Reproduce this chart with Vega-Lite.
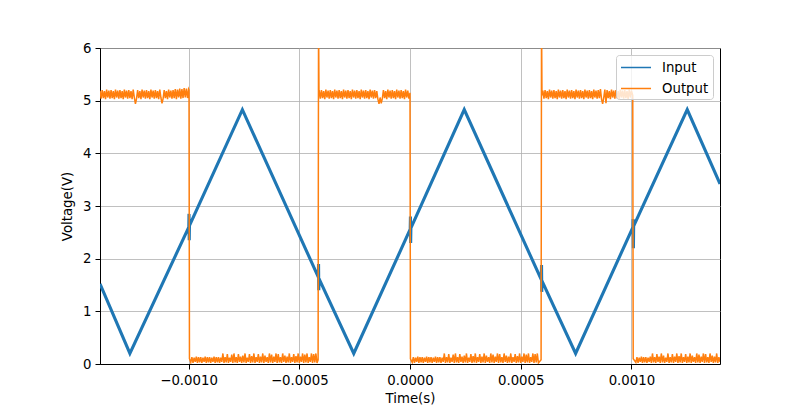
{
"$schema": "https://vega.github.io/schema/vega-lite/v6.json",
"width": 620, "height": 316,
"autosize": {"type": "none"},
"padding": {"left": 100, "top": 48, "right": 80, "bottom": 45},
"background": "white",
"config": {
 "font": "DejaVu Sans",
 "view": {"stroke": "black", "strokeWidth": 1},
 "axis": {"labelFont": "DejaVu Sans", "labelFontSize": 13.3, "labelColor": "black", "titleFont": "DejaVu Sans", "titleFontSize": 13.3, "titleFontWeight": "normal", "titleColor": "black", "tickColor": "black", "tickSize": 5, "domainColor": "black", "gridColor": "#b0b0b0", "gridWidth": 0.8, "labelPadding": 4, "titlePadding": 6},
 "legend": {"orient": "top-right", "offset": 7, "labelFont": "DejaVu Sans", "labelFontSize": 13.3, "labelColor": "black", "strokeColor": "#cccccc", "fillColor": "rgba(255,255,255,0.8)", "cornerRadius": 3, "padding": 4, "symbolType": "M-1,0H3", "symbolSize": 225, "symbolStrokeWidth": 1.5, "labelOffset": 25, "rowPadding": 6}
},
"datasets": {
 "input": [
  {"t": -0.0014, "v": 1.52}, {"t": -0.001265, "v": 0.2}, {"t": -0.000999, "v": 2.6}, {"t": -0.000998, "v": 2.85}, {"t": -0.000997, "v": 2.35}, {"t": -0.000996, "v": 2.63},
  {"t": -0.000757, "v": 4.83}, {"t": -0.000414, "v": 1.65}, {"t": -0.000413, "v": 1.9}, {"t": -0.000412, "v": 1.4}, {"t": -0.000411, "v": 1.62},
  {"t": -0.000254, "v": 0.2}, {"t": 0.000001, "v": 2.56}, {"t": 0.000002, "v": 2.8}, {"t": 0.000003, "v": 2.3}, {"t": 0.000004, "v": 2.58},
  {"t": 0.000245, "v": 4.83}, {"t": 0.000593, "v": 1.6}, {"t": 0.000594, "v": 1.88}, {"t": 0.000595, "v": 1.37}, {"t": 0.000596, "v": 1.58},
  {"t": 0.000748, "v": 0.2}, {"t": 0.001007, "v": 2.6}, {"t": 0.001008, "v": 2.75}, {"t": 0.001009, "v": 2.2}, {"t": 0.00101, "v": 2.62},
  {"t": 0.001252, "v": 4.83}, {"t": 0.0014, "v": 3.42}
 ],
 "output": [
  {"t":-0.0014,"v":5.19},{"t":-0.001395,"v":5.04},{"t":-0.00139,"v":5.2},{"t":-0.001385,"v":5.05},{"t":-0.00138,"v":5.18},{"t":-0.001375,"v":5.03},{"t":-0.00137,"v":5.21},{"t":-0.001365,"v":5.06},
  {"t":-0.00136,"v":5.19},{"t":-0.001355,"v":5.04},{"t":-0.00135,"v":5.2},{"t":-0.001345,"v":5.05},{"t":-0.00134,"v":5.18},{"t":-0.001335,"v":5.03},{"t":-0.00133,"v":5.21},{"t":-0.001325,"v":5.06},
  {"t":-0.00132,"v":5.19},{"t":-0.001315,"v":5.04},{"t":-0.00131,"v":5.2},{"t":-0.001305,"v":5.05},{"t":-0.0013,"v":5.18},{"t":-0.001295,"v":5.03},{"t":-0.00129,"v":5.21},{"t":-0.001285,"v":5.06},
  {"t":-0.00128,"v":5.19},{"t":-0.001275,"v":5.04},{"t":-0.00127,"v":5.2},{"t":-0.001265,"v":5.05},{"t":-0.00126,"v":5.18},{"t":-0.001255,"v":5.03},{"t":-0.00125,"v":5.21},{"t":-0.001245,"v":5.06},
  {"t":-0.00124,"v":4.94},{"t":-0.001235,"v":5.04},{"t":-0.00123,"v":5.2},{"t":-0.001225,"v":5.05},{"t":-0.00122,"v":5.18},{"t":-0.001215,"v":5.03},{"t":-0.00121,"v":5.21},{"t":-0.001205,"v":5.06},
  {"t":-0.0012,"v":5.19},{"t":-0.001195,"v":5.04},{"t":-0.00119,"v":5.2},{"t":-0.001185,"v":5.05},{"t":-0.00118,"v":5.18},{"t":-0.001175,"v":5.03},{"t":-0.00117,"v":5.21},{"t":-0.001165,"v":5.06},
  {"t":-0.00116,"v":5.19},{"t":-0.001155,"v":5.04},{"t":-0.00115,"v":5.2},{"t":-0.001145,"v":5.05},{"t":-0.00114,"v":5.18},{"t":-0.001135,"v":5.03},{"t":-0.00113,"v":5.21},{"t":-0.001125,"v":5.06},
  {"t":-0.00112,"v":4.95},{"t":-0.001115,"v":5.04},{"t":-0.00111,"v":5.2},{"t":-0.001105,"v":5.05},{"t":-0.0011,"v":5.18},{"t":-0.001095,"v":5.03},{"t":-0.00109,"v":5.21},{"t":-0.001085,"v":5.06},
  {"t":-0.00108,"v":5.19},{"t":-0.001075,"v":5.04},{"t":-0.00107,"v":5.2},{"t":-0.001065,"v":5.05},{"t":-0.00106,"v":5.22},{"t":-0.001055,"v":5.03},{"t":-0.00105,"v":5.21},{"t":-0.001045,"v":5.06},
  {"t":-0.00104,"v":5.23},{"t":-0.001035,"v":5.04},{"t":-0.00103,"v":5.22},{"t":-0.001025,"v":5.05},{"t":-0.00102,"v":5.24},{"t":-0.001015,"v":5.06},{"t":-0.00101,"v":5.23},{"t":-0.001005,"v":5.05},
  {"t":-0.001,"v":5.22},{"t":-0.000998,"v":5.2},{"t":-0.000996,"v":0.1},
  {"t":-0.00099,"v":0.03},{"t":-0.000985,"v":0.13},{"t":-0.00098,"v":0.02},{"t":-0.000975,"v":0.12},{"t":-0.00097,"v":0.04},{"t":-0.000965,"v":0.14},{"t":-0.00096,"v":0.02},{"t":-0.000955,"v":0.13},
  {"t":-0.00095,"v":0.03},{"t":-0.000945,"v":0.13},{"t":-0.00094,"v":0.02},{"t":-0.000935,"v":0.12},{"t":-0.00093,"v":0.04},{"t":-0.000925,"v":0.14},{"t":-0.00092,"v":0.02},{"t":-0.000915,"v":0.13},
  {"t":-0.00091,"v":0.03},{"t":-0.000905,"v":0.13},{"t":-0.0009,"v":0.02},{"t":-0.000895,"v":0.12},{"t":-0.00089,"v":0.04},{"t":-0.000885,"v":0.14},{"t":-0.00088,"v":0.02},{"t":-0.000875,"v":0.13},
  {"t":-0.00087,"v":0.03},{"t":-0.000865,"v":0.13},{"t":-0.00086,"v":0.02},{"t":-0.000855,"v":0.12},{"t":-0.00085,"v":0.04},{"t":-0.000845,"v":0.2},{"t":-0.00084,"v":0.02},{"t":-0.000835,"v":0.13},
  {"t":-0.00083,"v":0.03},{"t":-0.000825,"v":0.19},{"t":-0.00082,"v":0.02},{"t":-0.000815,"v":0.12},{"t":-0.00081,"v":0.04},{"t":-0.000805,"v":0.18},{"t":-0.0008,"v":0.02},{"t":-0.000795,"v":0.2},
  {"t":-0.00079,"v":0.03},{"t":-0.000785,"v":0.13},{"t":-0.00078,"v":0.02},{"t":-0.000775,"v":0.19},{"t":-0.00077,"v":0.04},{"t":-0.000765,"v":0.14},{"t":-0.00076,"v":0.02},{"t":-0.000755,"v":0.16},
  {"t":-0.00075,"v":0.03},{"t":-0.000745,"v":0.2},{"t":-0.00074,"v":0.02},{"t":-0.000735,"v":0.12},{"t":-0.00073,"v":0.04},{"t":-0.000725,"v":0.19},{"t":-0.00072,"v":0.02},{"t":-0.000715,"v":0.15},
  {"t":-0.00071,"v":0.03},{"t":-0.000705,"v":0.2},{"t":-0.0007,"v":0.02},{"t":-0.000695,"v":0.13},{"t":-0.00069,"v":0.04},{"t":-0.000685,"v":0.19},{"t":-0.00068,"v":0.02},{"t":-0.000675,"v":0.14},
  {"t":-0.00067,"v":0.03},{"t":-0.000665,"v":0.2},{"t":-0.00066,"v":0.02},{"t":-0.000655,"v":0.16},{"t":-0.00065,"v":0.04},{"t":-0.000645,"v":0.13},{"t":-0.00064,"v":0.02},{"t":-0.000635,"v":0.2},
  {"t":-0.00063,"v":0.03},{"t":-0.000625,"v":0.18},{"t":-0.00062,"v":0.02},{"t":-0.000615,"v":0.14},{"t":-0.00061,"v":0.04},{"t":-0.000605,"v":0.2},{"t":-0.0006,"v":0.02},{"t":-0.000595,"v":0.19},
  {"t":-0.00059,"v":0.03},{"t":-0.000585,"v":0.13},{"t":-0.00058,"v":0.02},{"t":-0.000575,"v":0.2},{"t":-0.00057,"v":0.04},{"t":-0.000565,"v":0.16},{"t":-0.00056,"v":0.02},{"t":-0.000555,"v":0.14},
  {"t":-0.00055,"v":0.03},{"t":-0.000545,"v":0.2},{"t":-0.00054,"v":0.02},{"t":-0.000535,"v":0.13},{"t":-0.00053,"v":0.04},{"t":-0.000525,"v":0.19},{"t":-0.00052,"v":0.02},{"t":-0.000515,"v":0.15},
  {"t":-0.00051,"v":0.03},{"t":-0.000505,"v":0.2},{"t":-0.0005,"v":0.02},{"t":-0.000495,"v":0.14},{"t":-0.00049,"v":0.04},{"t":-0.000485,"v":0.2},{"t":-0.00048,"v":0.02},{"t":-0.000475,"v":0.18},
  {"t":-0.00047,"v":0.03},{"t":-0.000465,"v":0.2},{"t":-0.00046,"v":0.02},{"t":-0.000455,"v":0.13},{"t":-0.00045,"v":0.04},{"t":-0.000445,"v":0.2},{"t":-0.00044,"v":0.02},{"t":-0.000435,"v":0.19},
  {"t":-0.00043,"v":0.03},{"t":-0.000425,"v":0.2},{"t":-0.00042,"v":0.02},
  {"t":-0.000415,"v":0.08},{"t":-0.000413,"v":6.6},{"t":-0.000411,"v":5.1},
  {"t":-0.00041,"v":5.19},{"t":-0.000405,"v":5.04},{"t":-0.0004,"v":5.2},{"t":-0.000395,"v":5.05},{"t":-0.00039,"v":5.18},{"t":-0.000385,"v":5.03},{"t":-0.00038,"v":5.21},{"t":-0.000375,"v":5.06},
  {"t":-0.00037,"v":5.19},{"t":-0.000365,"v":5.04},{"t":-0.00036,"v":5.2},{"t":-0.000355,"v":5.05},{"t":-0.00035,"v":5.18},{"t":-0.000345,"v":5.03},{"t":-0.00034,"v":5.21},{"t":-0.000335,"v":5.06},
  {"t":-0.00033,"v":5.19},{"t":-0.000325,"v":5.04},{"t":-0.00032,"v":5.2},{"t":-0.000315,"v":5.05},{"t":-0.00031,"v":5.18},{"t":-0.000305,"v":5.03},{"t":-0.0003,"v":5.21},{"t":-0.000295,"v":5.06},
  {"t":-0.00029,"v":5.19},{"t":-0.000285,"v":5.04},{"t":-0.00028,"v":5.2},{"t":-0.000275,"v":5.05},{"t":-0.00027,"v":5.18},{"t":-0.000265,"v":5.03},{"t":-0.00026,"v":5.21},{"t":-0.000255,"v":5.06},
  {"t":-0.00025,"v":5.19},{"t":-0.000245,"v":5.04},{"t":-0.00024,"v":5.2},{"t":-0.000235,"v":5.05},{"t":-0.00023,"v":5.18},{"t":-0.000225,"v":5.03},{"t":-0.00022,"v":5.21},{"t":-0.000215,"v":5.06},
  {"t":-0.00021,"v":5.19},{"t":-0.000205,"v":5.04},{"t":-0.0002,"v":5.2},{"t":-0.000195,"v":5.05},{"t":-0.00019,"v":5.18},{"t":-0.000185,"v":5.03},{"t":-0.00018,"v":5.21},{"t":-0.000175,"v":5.06},
  {"t":-0.00017,"v":5.19},{"t":-0.000165,"v":5.04},{"t":-0.00016,"v":5.2},{"t":-0.000155,"v":5.05},{"t":-0.00015,"v":5.18},{"t":-0.000145,"v":5.03},{"t":-0.00014,"v":4.94},{"t":-0.000135,"v":5.06},
  {"t":-0.00013,"v":4.95},{"t":-0.000125,"v":5.04},{"t":-0.00012,"v":5.2},{"t":-0.000115,"v":5.05},{"t":-0.00011,"v":5.18},{"t":-0.000105,"v":5.03},{"t":-0.0001,"v":5.21},{"t":-0.000095,"v":5.06},
  {"t":-0.00009,"v":5.19},{"t":-0.000085,"v":5.04},{"t":-0.00008,"v":5.2},{"t":-0.000075,"v":5.05},{"t":-0.00007,"v":5.18},{"t":-0.000065,"v":5.03},{"t":-0.00006,"v":5.21},{"t":-0.000055,"v":5.06},
  {"t":-0.00005,"v":5.19},{"t":-0.000045,"v":5.04},{"t":-0.00004,"v":5.2},{"t":-0.000035,"v":5.05},{"t":-0.00003,"v":5.18},{"t":-0.000025,"v":5.03},{"t":-0.00002,"v":5.21},{"t":-0.000015,"v":5.06},
  {"t":-0.00001,"v":5.19},{"t":-0.000005,"v":5.04},{"t":0.0,"v":5.15},{"t":0.000002,"v":0.1},
  {"t":0.00001,"v":0.03},{"t":0.000015,"v":0.13},{"t":0.00002,"v":0.02},{"t":0.000025,"v":0.12},{"t":0.00003,"v":0.04},{"t":0.000035,"v":0.14},{"t":0.00004,"v":0.02},{"t":0.000045,"v":0.13},
  {"t":0.00005,"v":0.03},{"t":0.000055,"v":0.13},{"t":0.00006,"v":0.02},{"t":0.000065,"v":0.12},{"t":0.00007,"v":0.04},{"t":0.000075,"v":0.14},{"t":0.00008,"v":0.02},{"t":0.000085,"v":0.13},
  {"t":0.00009,"v":0.03},{"t":0.000095,"v":0.13},{"t":0.0001,"v":0.02},{"t":0.000105,"v":0.12},{"t":0.00011,"v":0.04},{"t":0.000115,"v":0.14},{"t":0.00012,"v":0.02},{"t":0.000125,"v":0.13},
  {"t":0.00013,"v":0.03},{"t":0.000135,"v":0.13},{"t":0.00014,"v":0.02},{"t":0.000145,"v":0.12},{"t":0.00015,"v":0.04},{"t":0.000155,"v":0.2},{"t":0.00016,"v":0.02},{"t":0.000165,"v":0.13},
  {"t":0.00017,"v":0.03},{"t":0.000175,"v":0.19},{"t":0.00018,"v":0.02},{"t":0.000185,"v":0.12},{"t":0.00019,"v":0.04},{"t":0.000195,"v":0.18},{"t":0.0002,"v":0.02},{"t":0.000205,"v":0.2},
  {"t":0.00021,"v":0.03},{"t":0.000215,"v":0.13},{"t":0.00022,"v":0.02},{"t":0.000225,"v":0.19},{"t":0.00023,"v":0.04},{"t":0.000235,"v":0.14},{"t":0.00024,"v":0.02},{"t":0.000245,"v":0.16},
  {"t":0.00025,"v":0.03},{"t":0.000255,"v":0.2},{"t":0.00026,"v":0.02},{"t":0.000265,"v":0.12},{"t":0.00027,"v":0.04},{"t":0.000275,"v":0.19},{"t":0.00028,"v":0.02},{"t":0.000285,"v":0.15},
  {"t":0.00029,"v":0.03},{"t":0.000295,"v":0.2},{"t":0.0003,"v":0.02},{"t":0.000305,"v":0.13},{"t":0.00031,"v":0.04},{"t":0.000315,"v":0.19},{"t":0.00032,"v":0.02},{"t":0.000325,"v":0.14},
  {"t":0.00033,"v":0.03},{"t":0.000335,"v":0.2},{"t":0.00034,"v":0.02},{"t":0.000345,"v":0.16},{"t":0.00035,"v":0.04},{"t":0.000355,"v":0.13},{"t":0.00036,"v":0.02},{"t":0.000365,"v":0.2},
  {"t":0.00037,"v":0.03},{"t":0.000375,"v":0.18},{"t":0.00038,"v":0.02},{"t":0.000385,"v":0.14},{"t":0.00039,"v":0.04},{"t":0.000395,"v":0.2},{"t":0.0004,"v":0.02},{"t":0.000405,"v":0.19},
  {"t":0.00041,"v":0.03},{"t":0.000415,"v":0.13},{"t":0.00042,"v":0.02},{"t":0.000425,"v":0.2},{"t":0.00043,"v":0.04},{"t":0.000435,"v":0.16},{"t":0.00044,"v":0.02},{"t":0.000445,"v":0.14},
  {"t":0.00045,"v":0.03},{"t":0.000455,"v":0.2},{"t":0.00046,"v":0.02},{"t":0.000465,"v":0.13},{"t":0.00047,"v":0.04},{"t":0.000475,"v":0.19},{"t":0.00048,"v":0.02},{"t":0.000485,"v":0.15},
  {"t":0.00049,"v":0.03},{"t":0.000495,"v":0.2},{"t":0.0005,"v":0.02},{"t":0.000505,"v":0.14},{"t":0.00051,"v":0.04},{"t":0.000515,"v":0.2},{"t":0.00052,"v":0.02},{"t":0.000525,"v":0.18},
  {"t":0.00053,"v":0.03},{"t":0.000535,"v":0.2},{"t":0.00054,"v":0.02},{"t":0.000545,"v":0.13},{"t":0.00055,"v":0.04},{"t":0.000555,"v":0.2},{"t":0.00056,"v":0.02},{"t":0.000565,"v":0.19},
  {"t":0.00057,"v":0.03},{"t":0.000575,"v":0.2},{"t":0.00058,"v":0.02},
  {"t":0.000592,"v":0.08},{"t":0.000594,"v":6.6},{"t":0.000596,"v":5.1},
  {"t":0.0006,"v":5.19},{"t":0.000605,"v":5.04},{"t":0.00061,"v":5.2},{"t":0.000615,"v":5.05},{"t":0.00062,"v":5.18},{"t":0.000625,"v":5.03},{"t":0.00063,"v":5.21},{"t":0.000635,"v":5.06},
  {"t":0.00064,"v":5.19},{"t":0.000645,"v":5.04},{"t":0.00065,"v":5.2},{"t":0.000655,"v":5.05},{"t":0.00066,"v":5.18},{"t":0.000665,"v":5.03},{"t":0.00067,"v":5.21},{"t":0.000675,"v":5.06},
  {"t":0.00068,"v":5.19},{"t":0.000685,"v":5.04},{"t":0.00069,"v":5.2},{"t":0.000695,"v":5.05},{"t":0.0007,"v":5.18},{"t":0.000705,"v":5.03},{"t":0.00071,"v":5.21},{"t":0.000715,"v":5.06},
  {"t":0.00072,"v":5.19},{"t":0.000725,"v":5.04},{"t":0.00073,"v":5.2},{"t":0.000735,"v":5.05},{"t":0.00074,"v":5.18},{"t":0.000745,"v":5.03},{"t":0.00075,"v":5.21},{"t":0.000755,"v":5.06},
  {"t":0.00076,"v":5.19},{"t":0.000765,"v":5.04},{"t":0.00077,"v":5.2},{"t":0.000775,"v":5.05},{"t":0.00078,"v":5.18},{"t":0.000785,"v":5.03},{"t":0.00079,"v":5.21},{"t":0.000795,"v":5.06},
  {"t":0.0008,"v":5.19},{"t":0.000805,"v":5.04},{"t":0.00081,"v":5.2},{"t":0.000815,"v":5.05},{"t":0.00082,"v":5.18},{"t":0.000825,"v":5.03},{"t":0.00083,"v":5.21},{"t":0.000835,"v":5.06},
  {"t":0.00084,"v":5.19},{"t":0.000845,"v":5.04},{"t":0.00085,"v":5.2},{"t":0.000855,"v":5.05},{"t":0.00086,"v":5.22},{"t":0.000865,"v":5.03},{"t":0.00087,"v":4.94},{"t":0.000875,"v":5.06},
  {"t":0.00088,"v":5.21},{"t":0.000885,"v":4.95},{"t":0.00089,"v":5.2},{"t":0.000895,"v":5.05},{"t":0.0009,"v":5.18},{"t":0.000905,"v":5.03},{"t":0.00091,"v":5.21},{"t":0.000915,"v":5.06},
  {"t":0.00092,"v":5.19},{"t":0.000925,"v":5.04},{"t":0.00093,"v":5.2},{"t":0.000935,"v":5.05},{"t":0.00094,"v":5.18},{"t":0.000945,"v":5.03},{"t":0.00095,"v":5.21},{"t":0.000955,"v":5.06},
  {"t":0.00096,"v":5.19},{"t":0.000965,"v":5.04},{"t":0.00097,"v":5.2},{"t":0.000975,"v":5.05},{"t":0.00098,"v":5.18},{"t":0.000985,"v":5.03},{"t":0.00099,"v":5.21},{"t":0.000995,"v":5.06},
  {"t":0.001,"v":5.19},{"t":0.001006,"v":5.1},{"t":0.001008,"v":0.1},
  {"t":0.00102,"v":0.03},{"t":0.001025,"v":0.13},{"t":0.00103,"v":0.02},{"t":0.001035,"v":0.12},{"t":0.00104,"v":0.04},{"t":0.001045,"v":0.14},{"t":0.00105,"v":0.02},{"t":0.001055,"v":0.13},
  {"t":0.00106,"v":0.03},{"t":0.001065,"v":0.13},{"t":0.00107,"v":0.02},{"t":0.001075,"v":0.12},{"t":0.00108,"v":0.04},{"t":0.001085,"v":0.14},{"t":0.00109,"v":0.02},{"t":0.001095,"v":0.2},
  {"t":0.0011,"v":0.03},{"t":0.001105,"v":0.13},{"t":0.00111,"v":0.02},{"t":0.001115,"v":0.19},{"t":0.00112,"v":0.04},{"t":0.001125,"v":0.14},{"t":0.00113,"v":0.02},{"t":0.001135,"v":0.2},
  {"t":0.00114,"v":0.03},{"t":0.001145,"v":0.16},{"t":0.00115,"v":0.02},{"t":0.001155,"v":0.12},{"t":0.00116,"v":0.04},{"t":0.001165,"v":0.2},{"t":0.00117,"v":0.02},{"t":0.001175,"v":0.13},
  {"t":0.00118,"v":0.03},{"t":0.001185,"v":0.19},{"t":0.00119,"v":0.02},{"t":0.001195,"v":0.14},{"t":0.0012,"v":0.04},{"t":0.001205,"v":0.2},{"t":0.00121,"v":0.02},{"t":0.001215,"v":0.15},
  {"t":0.00122,"v":0.03},{"t":0.001225,"v":0.2},{"t":0.00123,"v":0.02},{"t":0.001235,"v":0.13},{"t":0.00124,"v":0.04},{"t":0.001245,"v":0.19},{"t":0.00125,"v":0.02},{"t":0.001255,"v":0.14},
  {"t":0.00126,"v":0.03},{"t":0.001265,"v":0.2},{"t":0.00127,"v":0.02},{"t":0.001275,"v":0.16},{"t":0.00128,"v":0.04},{"t":0.001285,"v":0.13},{"t":0.00129,"v":0.02},{"t":0.001295,"v":0.2},
  {"t":0.0013,"v":0.03},{"t":0.001305,"v":0.18},{"t":0.00131,"v":0.02},{"t":0.001315,"v":0.14},{"t":0.00132,"v":0.04},{"t":0.001325,"v":0.2},{"t":0.00133,"v":0.02},{"t":0.001335,"v":0.19},
  {"t":0.00134,"v":0.03},{"t":0.001345,"v":0.13},{"t":0.00135,"v":0.02},{"t":0.001355,"v":0.2},{"t":0.00136,"v":0.04},{"t":0.001365,"v":0.16},{"t":0.00137,"v":0.02},{"t":0.001375,"v":0.14},
  {"t":0.00138,"v":0.03},{"t":0.001385,"v":0.2},{"t":0.00139,"v":0.02},{"t":0.001395,"v":0.13},{"t":0.0014,"v":0.04}
 ]
},
"encoding": {
 "x": {"field": "t", "type": "quantitative", "title": "Time(s)", "scale": {"domain": [-0.0014, 0.0014], "nice": false, "zero": false}, "axis": {"values": [-0.001, -0.0005, 0, 0.0005, 0.001], "format": ".4f", "titlePadding": 5}},
 "y": {"field": "v", "type": "quantitative", "title": "Voltage(V)", "scale": {"domain": [0, 6], "nice": false}, "axis": {"values": [0, 1, 2, 3, 4, 5, 6], "format": "d", "titlePadding": 8}}
},
"layer": [
 {"data": {"name": "input"}, "mark": {"type": "line", "strokeWidth": 3.1, "clip": true},
  "encoding": {"color": {"datum": "Input", "scale": {"domain": ["Input", "Output"], "range": ["#1f77b4", "#ff7f0e"]}, "legend": {"title": null}}}},
 {"data": {"name": "output"}, "mark": {"type": "line", "strokeWidth": 1.5, "clip": true},
  "encoding": {"color": {"datum": "Output"}}}
]
}
